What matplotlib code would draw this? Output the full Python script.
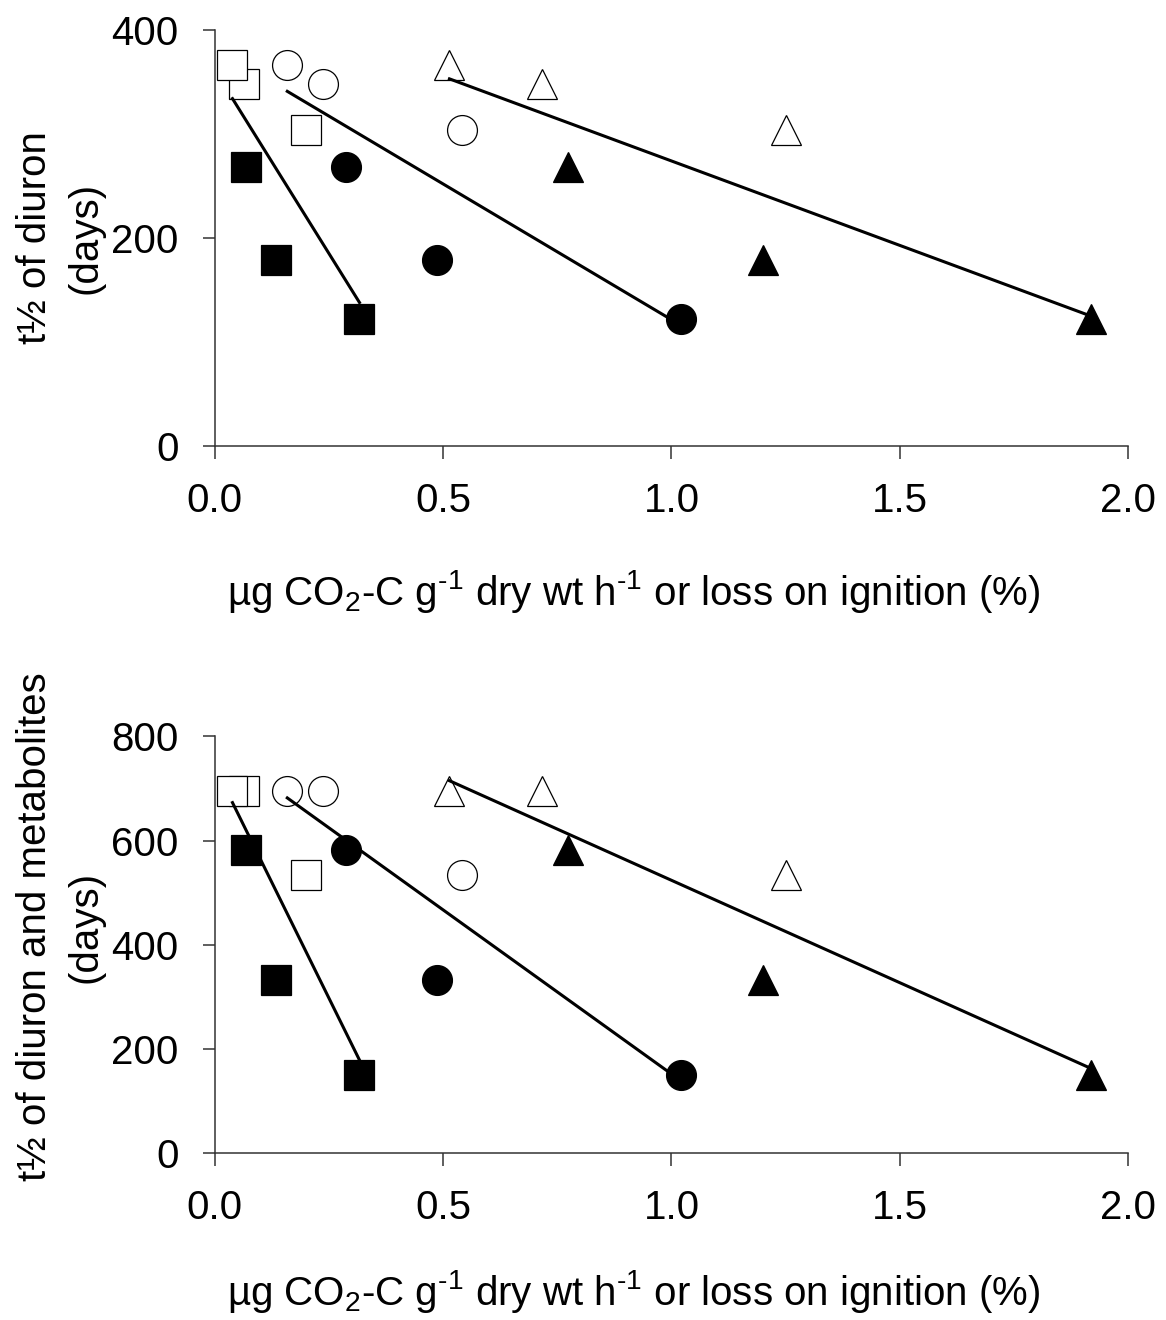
import matplotlib.pyplot as plt

plt.rcParams['font.family'] = ['Liberation Sans', 'DejaVu Sans']
plt.rcParams['mathtext.fontset'] = 'custom'
plt.rcParams['mathtext.rm'] = 'Liberation Sans'
plt.rcParams['mathtext.it'] = 'Liberation Sans:italic'
plt.rcParams['mathtext.bf'] = 'Liberation Sans:bold'

# six soils: first three plotted as open symbols, last three as filled ones
x_square = [0.039, 0.064, 0.201, 0.069, 0.135, 0.317]
x_circle = [0.159, 0.238, 0.541, 0.287, 0.486, 1.021]
x_triangle = [0.514, 0.717, 1.251, 0.774, 1.201, 1.918]

t_diuron = [366, 348, 304, 268, 179, 122]
t_total = [695, 695, 535, 583, 333, 150]

# trend lines: y at the lowest and highest x of each symbol set (square, circle, triangle)
fit_diuron_start = [334, 341, 353]
fit_diuron_end = [138, 116, 125]
fit_total_start = [673, 682, 715]
fit_total_end = [179, 139, 163]

x_ticks = [0.0, 0.5, 1.0, 1.5, 2.0]
x_ticklabels = ['0.0', '0.5', '1.0', '1.5', '2.0']

xlabel = ('µg CO$_2$-C g$^{\\text{-1}}$ dry wt h$^{\\text{-1}}$ '
          'or loss on ignition (%)')

panels = [
    dict(y=t_diuron, start=fit_diuron_start, end=fit_diuron_end,
         ymax=400, yticks=[0, 200, 400],
         ylabel='t½ of diuron\n(days)',
         rect=[0.1841, 0.6621, 0.7835, 0.3152], ylab_y=0.8197, xlab_y=0.5417),
    dict(y=t_total, start=fit_total_start, end=fit_total_end,
         ymax=800, yticks=[0, 200, 400, 600, 800],
         ylabel='t½ of diuron and metabolites\n(days)',
         rect=[0.1841, 0.1263, 0.7835, 0.3158], ylab_y=0.298, xlab_y=0.0114),
]

fig = plt.figure(figsize=(11.66, 13.2), dpi=100)
fs = 29
ms = 21.5

for p in panels:
    ax = fig.add_axes(p['rect'])
    for xs, mk, y0, y1 in zip([x_square, x_circle, x_triangle], ['s', 'o', '^'],
                              p['start'], p['end']):
        # open symbols, reversed so the first point sits on top
        ax.plot(xs[2::-1], p['y'][2::-1], linestyle='none', marker=mk, ms=ms,
                mfc='white', mec='black', mew=0.9, zorder=2, clip_on=False)
        ax.plot([min(xs), max(xs)], [y0, y1], color='black', lw=2.2,
                zorder=3, clip_on=False)
        ax.plot(xs[3:], p['y'][3:], linestyle='none', marker=mk, ms=ms,
                mfc='black', mec='black', mew=0.9, zorder=4, clip_on=False)

    ax.set_xlim(0, 2)
    ax.set_ylim(0, p['ymax'])
    ax.set_xticks(x_ticks)
    ax.set_xticklabels(x_ticklabels)
    ax.set_yticks(p['yticks'])
    ax.spines['top'].set_visible(False)
    ax.spines['right'].set_visible(False)
    for s in ['left', 'bottom']:
        ax.spines[s].set_linewidth(1.1)
        ax.spines[s].set_color('#333333')
    ax.tick_params(axis='both', direction='out', length=9, width=1.1,
                   color='#333333', labelsize=fs, pad=17)

    fig.text(0.0515, p['ylab_y'], p['ylabel'], rotation=90, ha='center',
             va='center', multialignment='center', fontsize=fs, linespacing=1.4)
    fig.text(0.1944, p['xlab_y'], xlabel, ha='left', va='baseline', fontsize=fs)

fig.savefig('out.png', dpi=100, facecolor='white')
